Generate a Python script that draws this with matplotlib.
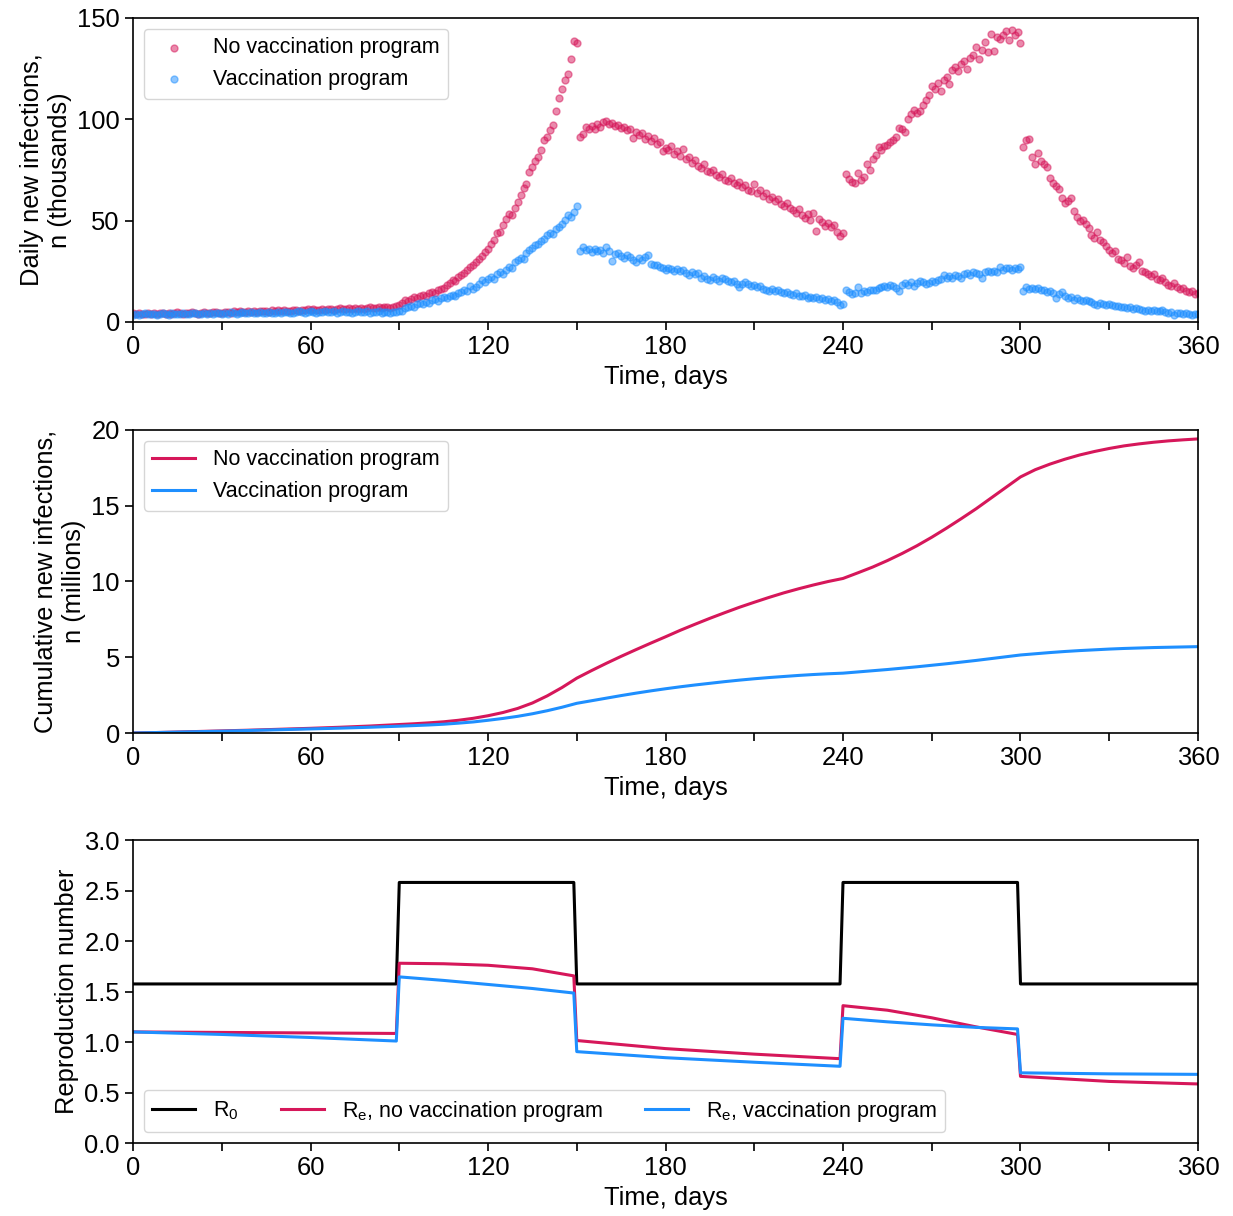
import matplotlib
matplotlib.use("Agg")
import matplotlib.pyplot as plt
from matplotlib.ticker import MultipleLocator
import numpy as np

plt.rcParams['font.family'] = ['Liberation Sans', 'DejaVu Sans']
plt.rcParams['mathtext.default'] = 'regular'

RED = '#d6175a'
BLUE = '#1e8fff'

# daily new infections (thousands), days 0..360
no_vax_daily = [
    4.2, 3.9, 4.4, 4.0, 3.8, 4.3, 4.1, 4.5, 3.9, 4.2,
    4.4, 4.0, 4.6, 4.1, 4.3, 4.7, 4.2, 3.9, 4.5, 4.4,
    4.8, 4.3, 4.1, 4.6, 4.9, 4.4, 4.2, 4.7, 5.0, 4.5,
    4.6, 5.1, 4.8, 4.4, 5.2, 4.9, 5.3, 4.7, 5.0, 5.4,
    5.1, 5.5, 4.9, 5.3, 5.6, 5.2, 5.0, 5.7, 5.4, 5.8,
    5.5, 5.9, 5.3, 5.6, 6.0, 5.7, 5.4, 6.1, 5.8, 6.2,
    5.9, 6.3, 5.7, 6.1, 6.5, 6.0, 6.2, 6.6, 5.9, 6.4,
    6.7, 6.2, 6.5, 6.9, 6.3, 6.8, 6.6, 7.1, 6.5, 6.9,
    7.2, 6.8, 7.0, 7.4, 6.9, 7.3, 7.6, 7.1, 7.5, 7.8,
    8.2,
    9.5, 10.8, 10.2, 11.5, 12.3, 11.8, 12.9, 13.5, 12.8, 14.2,
    14.8, 14.3, 15.9, 16.5, 17.0, 18.2, 19.4, 20.6, 20.0, 22.4,
    23.1, 24.0, 25.8, 26.9, 28.0, 29.8, 31.0, 32.4, 34.7, 36.2,
    38.6, 40.5, 43.7, 44.2, 48.0, 50.6, 53.2, 52.8, 56.4, 59.0,
    62.5, 66.0, 68.2, 73.8, 76.5, 79.6, 81.4, 84.8, 89.6, 91.2,
    94.5, 97.3, 104.0, 110.5, 114.8, 119.5, 122.6, 129.8, 138.5, 137.6,
    91.5, 93.0, 96.2, 95.0, 96.8, 95.4, 97.5, 96.0, 98.6, 99.2,
    97.8, 98.1, 96.9, 97.4, 95.8, 96.3, 94.7, 95.2, 91.0, 93.6,
    92.4, 93.1, 90.2, 91.8, 89.5, 90.7, 87.8, 88.9, 84.6, 86.0,
    85.1, 86.8, 83.0, 84.2, 82.1, 85.5, 80.4, 81.6, 78.6, 79.9,
    77.2, 76.0, 77.8, 74.6, 73.8, 75.2, 72.4, 71.5, 73.0, 70.2,
    69.6, 71.0, 68.8, 67.4, 68.9, 66.5, 67.8, 65.3, 64.6, 67.9,
    63.8, 65.0, 62.2, 63.5, 60.8, 61.9, 59.7, 60.5, 58.4, 57.2,
    58.9, 56.1, 55.3, 54.0, 55.8, 52.7, 51.4, 53.2, 50.5, 53.8,
    45.0, 51.0, 49.2, 47.6, 48.9, 46.8, 47.9, 44.2, 42.3, 43.8,
    73.0, 70.4, 69.2, 68.8, 73.6, 70.0, 71.5, 78.0, 75.2, 80.4,
    82.5, 86.3, 84.9, 86.8, 87.5, 88.6, 89.9, 91.2, 95.6, 95.0,
    93.8, 100.2, 102.5, 104.8, 102.9, 104.0, 107.2, 109.5, 112.0, 116.3,
    114.9, 117.8, 114.2, 119.6, 121.0, 117.5, 124.5, 125.8, 123.9, 127.5,
    128.9, 125.0, 130.5, 131.8, 135.6, 129.9, 134.2, 138.4, 133.2, 142.3,
    133.6, 140.7, 139.5, 141.8, 143.4, 139.0, 144.2, 141.5, 143.1, 137.6,
    86.2, 89.8, 90.5, 81.4, 77.8, 83.6, 79.5, 78.0, 76.4, 71.2,
    68.6, 67.0, 65.8, 61.2, 58.5, 59.8, 61.0, 54.6, 51.8, 49.6,
    50.5, 48.2, 46.4, 42.8, 41.2, 44.3, 40.6, 39.5, 37.4, 35.6,
    33.8, 34.9, 31.2, 30.4, 29.1, 32.0, 27.5, 26.4, 28.3, 29.6,
    25.2, 24.6, 23.7, 22.5, 23.9, 21.4, 20.6, 21.8, 19.5, 18.4,
    17.6, 19.0, 17.2, 16.1, 16.8, 15.2, 14.6, 15.3, 14.0, 14.5,
]

vax_daily = [
    3.6, 4.0, 3.5, 3.9, 4.2, 3.7, 3.8, 4.1, 3.5, 3.9,
    4.2, 3.8, 3.6, 4.3, 4.0, 3.7, 4.1, 4.4, 3.9, 3.8,
    4.2, 4.5, 3.9, 4.1, 4.4, 4.0, 4.3, 3.8, 4.2, 4.6,
    4.1, 4.4, 4.0, 4.7, 4.3, 4.1, 4.5, 4.8, 4.2, 4.4,
    4.7, 4.3, 4.6, 4.9, 4.4, 4.5, 4.8, 4.2, 4.6, 5.0,
    4.5, 4.7, 5.1, 4.6, 4.4, 4.9, 5.2, 4.7, 4.5, 5.0,
    5.3, 4.8, 4.6, 5.1, 4.9, 5.4, 4.7, 5.0, 5.2, 4.6,
    4.9, 5.3, 4.8, 5.1, 4.5, 5.0, 5.4, 4.7, 4.9, 5.2,
    4.6, 5.0, 4.8, 5.3, 4.5, 4.9, 5.1, 4.4, 4.8, 5.0,
    5.3,
    5.6, 6.8, 7.4, 8.1, 7.6, 8.9, 9.3, 8.7, 10.0, 9.6,
    10.8, 11.2, 10.5, 11.9, 12.3, 11.6, 13.0, 13.5, 12.9, 14.3,
    14.8, 15.6, 15.1, 17.9, 16.4, 17.2, 18.6, 20.5, 19.8, 21.4,
    22.0, 21.3, 23.5, 24.6, 23.8, 25.9, 27.2, 26.5, 29.8, 30.6,
    31.8, 31.2, 33.9, 35.4, 36.6, 37.8, 38.5, 40.2, 41.0, 42.9,
    44.1, 43.6, 45.8, 47.0, 48.5, 50.2, 52.6, 51.8, 54.4, 57.0,
    35.0, 36.8, 35.6, 36.2, 34.5, 35.8, 34.9, 35.6, 34.1, 37.0,
    35.2, 30.1, 33.5, 34.0, 32.6, 31.5, 33.1, 32.3, 30.8, 29.7,
    31.6, 30.4, 31.9, 33.0, 28.8, 28.2, 27.9, 27.1, 26.6, 25.9,
    26.8, 26.2, 25.4, 26.0, 25.1, 25.6, 24.3, 23.4, 24.7, 23.9,
    24.2, 21.8, 22.6, 21.3, 20.8, 22.0, 21.1, 20.4, 21.6, 21.3,
    20.2, 19.6, 20.1, 18.8, 17.5, 18.9, 19.7, 18.6, 17.9, 18.4,
    17.2, 17.6, 16.5, 15.8, 15.1, 16.2, 15.5, 15.9, 14.8, 14.3,
    14.9, 13.8, 13.5, 14.1, 12.9, 12.7, 13.2, 11.9, 12.4, 11.8,
    12.5, 11.3, 11.6, 10.9, 11.2, 10.5, 10.9, 10.1, 8.6, 8.9,
    15.9, 14.8, 13.6, 14.5, 17.2, 14.1, 15.3, 14.9, 15.6, 16.0,
    15.7, 16.6, 17.1, 18.0, 17.4, 18.3, 17.8, 16.9, 15.2, 18.1,
    19.0, 18.5, 19.8, 17.6, 19.4, 20.1, 19.6, 18.9, 19.3, 20.4,
    19.8, 20.6, 21.3, 23.0, 21.9, 22.5, 21.6, 23.3, 22.8, 21.7,
    23.5, 24.1, 23.2, 24.8, 24.3, 23.9, 21.6, 24.5, 25.1, 24.6,
    25.3, 24.9, 27.2, 25.8, 26.4, 26.6, 25.9, 26.7, 26.2, 27.3,
    15.2, 17.3, 16.4, 16.8, 16.1, 16.6, 15.9, 15.6, 14.8, 15.1,
    14.2, 11.9, 13.6, 14.9, 12.8, 11.8, 12.4, 11.0, 11.6, 10.8,
    10.5, 11.1, 10.2, 9.8, 9.1, 8.5, 9.4, 8.9, 8.2, 8.7,
    8.4, 7.9, 8.1, 7.5, 7.2, 6.8, 7.4, 6.5, 7.0, 6.2,
    6.0, 5.3, 5.8, 5.6, 5.9, 5.4, 5.2, 5.7, 4.9, 4.4,
    4.8, 3.6, 4.5, 4.2, 3.9, 4.6, 3.8, 3.5, 4.1, 3.7,
]

# cumulative new infections (millions), every 5 days
cum_days = list(range(0, 361, 5))
no_vax_cum = [
    0.0, 0.02, 0.04, 0.065, 0.09, 0.115, 0.14, 0.165, 0.19, 0.22,
    0.25, 0.28, 0.31, 0.345, 0.38, 0.42, 0.46, 0.51, 0.56, 0.61,
    0.67, 0.74, 0.84, 0.97, 1.14, 1.35, 1.62, 1.98, 2.45, 3.0,
    3.62, 4.12, 4.60, 5.06, 5.50, 5.93, 6.35, 6.78, 7.18, 7.57,
    7.94, 8.30, 8.63, 8.95, 9.25, 9.52, 9.77, 10.0, 10.2, 10.57,
    10.95, 11.38, 11.85, 12.36, 12.92, 13.52, 14.15, 14.8, 15.5, 16.2,
    16.9, 17.38, 17.75, 18.07, 18.35, 18.58, 18.78, 18.95, 19.08, 19.19,
    19.28, 19.35, 19.41,
]
vax_cum = [
    0.0, 0.02, 0.04, 0.06, 0.08, 0.10, 0.12, 0.145, 0.17, 0.195,
    0.22, 0.245, 0.27, 0.295, 0.32, 0.35, 0.38, 0.415, 0.45, 0.49,
    0.53, 0.58, 0.65, 0.73, 0.84, 0.96, 1.10, 1.27, 1.47, 1.70,
    1.96, 2.13, 2.30, 2.47, 2.63, 2.78, 2.92, 3.05, 3.17, 3.28,
    3.39, 3.49, 3.58, 3.66, 3.73, 3.80, 3.86, 3.91, 3.95, 4.03,
    4.11, 4.19, 4.28, 4.37, 4.47, 4.57, 4.68, 4.79, 4.91, 5.03,
    5.15, 5.23, 5.31, 5.38, 5.44, 5.49, 5.54, 5.58, 5.61, 5.64,
    5.66, 5.68, 5.70,
]

# reproduction numbers
r0_days = [0, 89, 90, 149, 150, 239, 240, 299, 300, 360]
r0_vals = [1.575, 1.575, 2.58, 2.58, 1.575, 1.575, 2.58, 2.58, 1.575, 1.575]
re_days = [0, 30, 60, 89, 90, 105, 120, 135, 149, 150, 180, 210, 239,
           240, 255, 270, 285, 299, 300, 330, 360]
re_no_vax = [1.10, 1.095, 1.09, 1.085, 1.78, 1.775, 1.76, 1.725, 1.655,
             1.015, 0.935, 0.88, 0.835, 1.36, 1.315, 1.24, 1.15, 1.075,
             0.66, 0.61, 0.585]
re_vax = [1.10, 1.075, 1.045, 1.01, 1.645, 1.61, 1.57, 1.53, 1.485,
          0.905, 0.845, 0.80, 0.76, 1.235, 1.20, 1.17, 1.145, 1.13,
          0.695, 0.685, 0.68]

FS = 18.4
LFS = 15.5

fig = plt.figure(figsize=(12.33, 12.16), dpi=100)
ax1 = fig.add_axes([0.1079, 0.7352, 0.8637, 0.25])
ax2 = fig.add_axes([0.1079, 0.3972, 0.8637, 0.2492])
ax3 = fig.add_axes([0.1079, 0.0600, 0.8637, 0.2492])

ax1.scatter(np.arange(len(no_vax_daily)), no_vax_daily, s=25, color=RED,
            alpha=0.5, linewidths=1, label='No vaccination program')
ax1.scatter(np.arange(len(vax_daily)), vax_daily, s=25, color=BLUE,
            alpha=0.5, linewidths=1, label='Vaccination program')
ax1.set_ylim(0, 150)
ax1.yaxis.set_major_locator(MultipleLocator(50))
ax1.set_ylabel('Daily new infections,\nn (thousands)', fontsize=FS)

ax2.plot(cum_days, no_vax_cum, color=RED, lw=2.2, label='No vaccination program')
ax2.plot(cum_days, vax_cum, color=BLUE, lw=2.2, label='Vaccination program')
ax2.set_ylim(0, 20)
ax2.yaxis.set_major_locator(MultipleLocator(5))
ax2.set_ylabel('Cumulative new infections,\nn (millions)', fontsize=FS)

ax3.plot(r0_days, r0_vals, color='black', lw=2.2, label='R$_0$')
ax3.plot(re_days, re_no_vax, color=RED, lw=2.2, label='R$_e$, no vaccination program')
ax3.plot(re_days, re_vax, color=BLUE, lw=2.2, label='R$_e$, vaccination program')
ax3.set_ylim(0, 3)
ax3.yaxis.set_major_locator(MultipleLocator(0.5))
ax3.yaxis.set_major_formatter(plt.FormatStrFormatter('%.1f'))
ax3.set_ylabel('Reproduction number', fontsize=FS)

for ax in (ax1, ax2, ax3):
    ax.set_xlim(0, 360)
    ax.xaxis.set_major_locator(MultipleLocator(60))
    ax.xaxis.set_minor_locator(MultipleLocator(30))
    ax.tick_params(which='both', length=6, width=1.2, labelsize=FS)
    ax.set_xlabel('Time, days', fontsize=FS)
    for sp in ax.spines.values():
        sp.set_linewidth(1.2)

ax1.legend(loc='upper left', fontsize=LFS)
ax2.legend(loc='upper left', fontsize=LFS)
ax3.legend(loc='lower left', ncol=3, fontsize=LFS)

fig.savefig('out.png', dpi=100)
